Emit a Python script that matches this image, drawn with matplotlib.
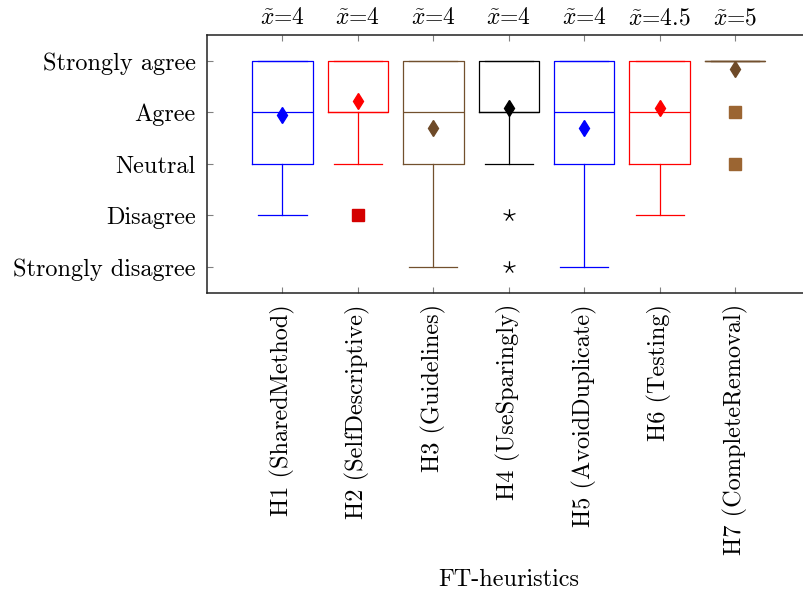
import numpy as np
import matplotlib
matplotlib.use('Agg')
import matplotlib.pyplot as plt
from matplotlib.path import Path
from matplotlib import transforms

plt.rcParams['font.family'] = ['cmr10', 'DejaVu Serif']
plt.rcParams['mathtext.fontset'] = 'cm'
plt.rcParams['axes.unicode_minus'] = False

# data (1 = Strongly disagree ... 5 = Strongly agree)
heuristics = ['H1 (SharedMethod)', 'H2 (SelfDescriptive)', 'H3 (Guidelines)',
              'H4 (UseSparingly)', 'H5 (AvoidDuplicate)', 'H6 (Testing)',
              'H7 (CompleteRemoval)']
medians = [4, 4, 4, 4, 4, 4, 5]
q1 = [3, 4, 3, 4, 3, 3, 5]
q3 = [5, 5, 5, 5, 5, 5, 5]
whis_lo = [2, 3, 1, 3, 1, 2, 5]
whis_hi = [5, 5, 5, 5, 5, 5, 5]
means = [3.95, 4.23, 3.69, 4.09, 3.69, 4.09, 4.84]
outliers = [[], [2], [], [2, 1], [], [], [4, 3]]
median_labels = ['4', '4', '4', '4', '4', '4.5', '5']
likert = ['Strongly disagree', 'Disagree', 'Neutral', 'Agree', 'Strongly agree']

blue = '#0000ff'
red = '#ff0000'
brown = '#72502e'
colors = [blue, red, brown, 'black', blue, red, brown]
mean_colors = [blue, red, '#6e4a28', 'black', blue, red, '#6e4a28']

# pgfplots-like star (five spokes)
star_verts, star_codes = [], []
for k in range(5):
    a = np.pi / 2 + 2 * np.pi * k / 5
    star_verts += [(0, 0), (np.cos(a), np.sin(a))]
    star_codes += [Path.MOVETO, Path.LINETO]
star = Path(star_verts, star_codes)

flier_styles = [
    None,
    dict(marker='s', markerfacecolor='#d40000', markeredgecolor='#d40000', markersize=8.5),
    None,
    dict(marker=star, markerfacecolor='none', markeredgecolor='black', markersize=9,
         markeredgewidth=0.9),
    None,
    None,
    dict(marker='s', markerfacecolor='#9b6532', markeredgecolor='#9b6532', markersize=8.5),
]

fs = 17.5

fig = plt.figure(figsize=(8.04, 5.96), dpi=100)
ax = fig.add_axes([0.2575, 0.5084, 0.7506, 0.4329])

for i in range(len(heuristics)):
    c = colors[i]
    stats = [dict(med=medians[i], q1=q1[i], q3=q3[i], whislo=whis_lo[i],
                  whishi=whis_hi[i], mean=means[i], fliers=outliers[i])]
    fp = flier_styles[i] if flier_styles[i] else dict(marker='')
    fp = dict(fp, linestyle='none')
    ax.bxp(stats, positions=[i + 1], widths=0.8, showmeans=True, showfliers=True,
           boxprops=dict(color=c, linewidth=0.9),
           whiskerprops=dict(color=c, linewidth=0.9),
           capprops=dict(color=c, linewidth=0.9),
           medianprops=dict(color=c, linewidth=0.9),
           meanprops=dict(marker='d', markerfacecolor=mean_colors[i],
                          markeredgecolor=mean_colors[i], markersize=8),
           flierprops=fp, capwidths=0.64, manage_ticks=False)

trans = transforms.blended_transform_factory(ax.transData, ax.transAxes)
for i, lab in enumerate(median_labels):
    ax.annotate(r'$\tilde{x}$=' + lab, xy=(i + 1, 1.0), xycoords=trans,
                xytext=(0, 12), textcoords='offset points', ha='center',
                va='center', fontsize=17)

ax.set_xlim(0, 8)
ax.set_ylim(0.495, 5.505)
ax.set_xticks(range(1, 8))
ax.set_xticklabels(heuristics, rotation=90, fontsize=fs)
ax.set_yticks(range(1, 6))
ax.set_yticklabels(likert, fontsize=fs)
ax.set_xlabel('FT-heuristics', fontsize=fs, labelpad=10)

ax.tick_params(direction='in', length=4.5, width=0.8, color='#808080',
               top=True, right=True, pad=8)
for sp in ax.spines.values():
    sp.set_linewidth(1.1)
    sp.set_color('#222222')

fig.savefig('out.png', dpi=100)
